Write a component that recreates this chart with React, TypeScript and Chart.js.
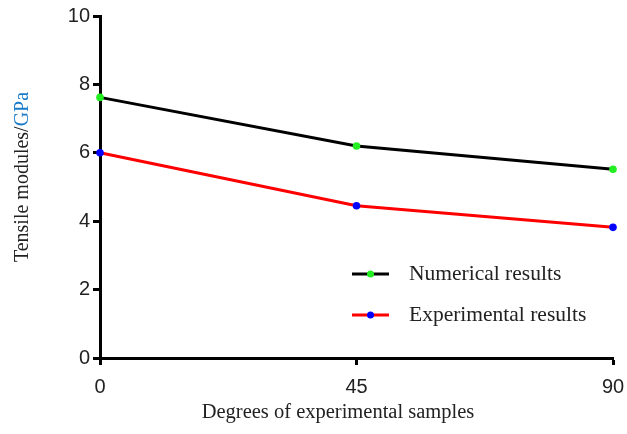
import React, { useEffect, useRef } from "react";
import { Chart, registerables } from "chart.js";

Chart.register(...registerables);

const degrees = [0, 45, 90];
const numericalResults = [7.62, 6.2, 5.52];
const experimentalResults = [6.0, 4.45, 3.82];
const xTicks = [0, 45, 90];
const seriesLabels = ["Numerical results", "Experimental results"];

const titlesPlugin = {
  id: "customTitles",
  afterDraw(chart: any) {
    const ctx = chart.ctx;
    ctx.save();
    // Y title (two colours)
    ctx.font = "20px 'Liberation Serif'";
    ctx.textBaseline = "middle";
    const p1 = "Tensile modules/";
    const p2 = "GPa";
    const w1 = ctx.measureText(p1).width;
    const w2 = ctx.measureText(p2).width;
    const total = w1 + w2;
    ctx.translate(23, 177);
    ctx.rotate(-Math.PI / 2);
    ctx.textAlign = "left";
    ctx.fillStyle = "#222";
    ctx.fillText(p1, -total / 2, 0);
    ctx.fillStyle = "#1a7cc9";
    ctx.fillText(p2, -total / 2 + w1, 0);
    ctx.restore();

    ctx.save();
    ctx.font = "20.5px 'Liberation Serif'";
    ctx.fillStyle = "#222";
    ctx.textAlign = "center";
    ctx.textBaseline = "middle";
    ctx.fillText("Degrees of experimental samples", 338, 413);
    ctx.restore();

    // legend
    ctx.save();
    const ys = [274, 315];
    chart.data.datasets.forEach((ds: any, i: number) => {
      const y = ys[i];
      ctx.strokeStyle = ds.borderColor;
      ctx.lineWidth = 3;
      ctx.beginPath();
      ctx.moveTo(352, y);
      ctx.lineTo(389, y);
      ctx.stroke();
      ctx.fillStyle = ds.pointBackgroundColor;
      ctx.beginPath();
      ctx.arc(370.5, y, 3.5, 0, Math.PI * 2);
      ctx.fill();
      ctx.font = "21.5px 'Liberation Serif'";
      ctx.fillStyle = "#222";
      ctx.textAlign = "left";
      ctx.textBaseline = "middle";
      ctx.fillText(ds.label, 409, y);
    });
    ctx.restore();
  },
};

export default function App() {
  const ref = useRef<HTMLCanvasElement>(null);
  useEffect(() => {
    document.body.style.margin = "0";
    const chart = new Chart(ref.current!, {
      type: "line",
      data: {
        datasets: [
          {
            label: seriesLabels[0],
            data: degrees.map((d, i) => ({ x: d, y: numericalResults[i] })),
            borderColor: "#000000",
            borderWidth: 3,
            pointBackgroundColor: "#22ee22",
            pointBorderWidth: 0,
            pointRadius: 3.8,
            tension: 0,
            clip: false,
          },
          {
            label: seriesLabels[1],
            data: degrees.map((d, i) => ({ x: d, y: experimentalResults[i] })),
            borderColor: "#ff0000",
            borderWidth: 3,
            pointBackgroundColor: "#0000ff",
            pointBorderWidth: 0,
            pointRadius: 3.8,
            tension: 0,
            clip: false,
          },
        ],
      },
      options: {
        responsive: false,
        animation: false,
        layout: { padding: { top: 16, right: 14, left: 0, bottom: 0 } },
        plugins: { legend: { display: false }, tooltip: { enabled: false } },
        scales: {
          x: {
            type: "linear",
            min: 0,
            max: 90,
            afterFit: (s: any) => {
              s.height = 76;
              s.paddingLeft = 0;
              s.paddingRight = 0;
            },
            afterBuildTicks: (s: any) => {
              s.ticks = xTicks.map((v) => ({ value: v }));
            },
            border: { display: true, color: "#000", width: 3 },
            grid: { drawOnChartArea: false, tickLength: 7, tickWidth: 3, tickColor: "#000" },
            ticks: {
              color: "#222",
              font: { family: "'Liberation Sans'", size: 20 },
              padding: 10,
              maxRotation: 0,
            },
          },
          y: {
            min: 0,
            max: 10,
            afterFit: (s: any) => {
              s.width = 100;
              s.paddingTop = 0;
              s.paddingBottom = 0;
            },
            border: { display: true, color: "#000", width: 3 },
            grid: { drawOnChartArea: false, tickLength: 7, tickWidth: 3, tickColor: "#000" },
            ticks: {
              stepSize: 2,
              color: "#222",
              font: { family: "'Liberation Sans'", size: 20 },
              padding: 3,
            },
          },
        },
      },
      plugins: [titlesPlugin],
    } as any);
    return () => chart.destroy();
  }, []);
  return <canvas ref={ref} width={627} height={434} style={{ display: "block" }} />;
}
